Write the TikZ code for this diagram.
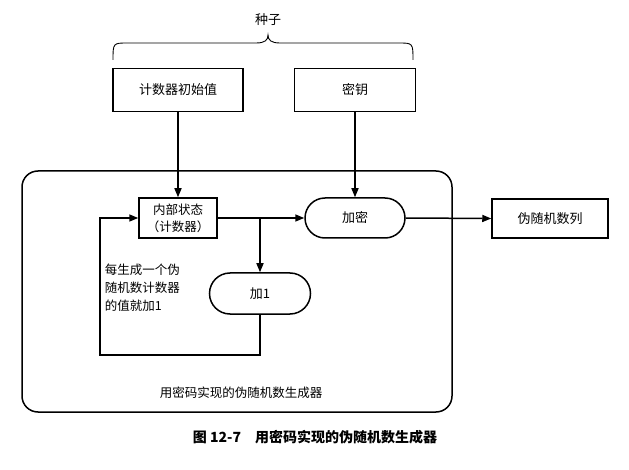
\documentclass[tikz,border=0pt]{standalone}
\usepackage{fontspec}
\setmainfont{Noto Sans CJK SC}
\usetikzlibrary{arrows.meta,shapes.misc}
\begin{document}
\begin{tikzpicture}[x=1pt,y=-1pt,
  line width=1.5pt,
  box/.style={draw,rectangle,inner sep=0pt,font=\fontsize{13}{14}\selectfont,align=center},
  pill/.style={draw,rounded rectangle,inner sep=0pt,font=\fontsize{13}{14}\selectfont},
  arr/.style={-{Triangle[length=9pt,width=7pt]}},
  lbl/.style={inner sep=0pt,font=\fontsize{12.5}{14}\selectfont}]
\useasboundingbox (0,0) rectangle (629,470);
% seed brace
\node[lbl,font=\fontsize{13}{15}\selectfont] (seed) at (268,20) {种子};
\draw[line width=0.9pt] (113,60) .. controls (113,43) .. (128,43) -- (256,43)
  .. controls (265,43) and (268,40) .. (268,35)
  .. controls (268,40) and (271,43) .. (280,43) -- (398,43)
  .. controls (413,43) .. (413,60);
% outer box
\node[draw,rectangle,rounded corners=16pt,minimum width=430pt,minimum height=241pt,inner sep=0pt] (outer) at (237,291.5) {};
\node[lbl,anchor=west] (outerlbl) at (159,393) {用密码实现的伪随机数生成器};
% boxes
\node[box,minimum width=130pt,minimum height=43pt] (init) at (178,90) {计数器初始值};
\node[box,minimum width=121pt,minimum height=43pt] (key) at (355,90) {密钥};
\node[box,minimum width=78pt,minimum height=40pt,font=\fontsize{12.5}{17}\selectfont] (state) at (178,218) {内部状态\\（计数器）};
\node[pill,minimum width=100pt,minimum height=40pt] (enc) at (355,218) {加密};
\node[pill,minimum width=101pt,minimum height=41pt] (add) at (260,293.5) {加1};
\node[box,minimum width=116pt,minimum height=39pt] (prng) at (550,218.5) {伪随机数列};
\node[lbl,anchor=west,align=left,font=\fontsize{12.5}{18}\selectfont] (note) at (104,288) {每生成一个伪\\随机数计数器\\的值就加1};
% connectors
\draw[arr] (init.south) -- (state.north);
\draw[arr] (key.south) -- (enc.north);
\draw[arr] (state.east) -- (enc.west);
\coordinate (br) at (260,218);
\draw[arr] (br) -- (add.north);
\coordinate (loopc) at (100,355);
\draw[arr] (add.south) |- (loopc) |- (state.west);
\draw[arr] (enc.east) -- (prng.west);
% caption
\node[lbl,font=\fontsize{14}{16}\selectfont\bfseries] (cap) at (315,437) {图 12-7\hspace{1em}用密码实现的伪随机数生成器};
\end{tikzpicture}
\end{document}
